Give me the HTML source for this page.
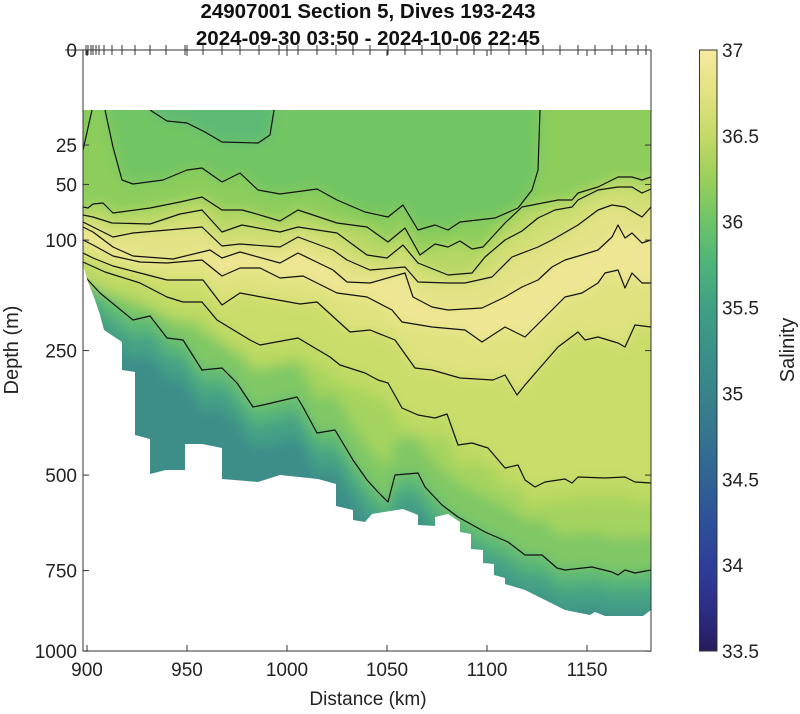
<!DOCTYPE html>
<html><head><meta charset="utf-8"><style>
html,body{margin:0;padding:0;background:#fff;}
svg{display:block;font-family:"Liberation Sans",sans-serif;}
</style></head><body>
<svg id="s" width="800" height="714" viewBox="0 0 800 714" xmlns="http://www.w3.org/2000/svg">
<defs>
<clipPath id="dc"><polygon id="shape" points=""/></clipPath>
<filter id="bl" x="-10%" y="-10%" width="120%" height="120%"><feGaussianBlur stdDeviation="6"/></filter>
<linearGradient id="cb" x1="0" y1="1" x2="0" y2="0">
<stop offset="0" stop-color="#261c5e"/><stop offset="0.071" stop-color="#2c2e86"/>
<stop offset="0.143" stop-color="#2e3e9a"/><stop offset="0.214" stop-color="#2d5098"/>
<stop offset="0.286" stop-color="#306393"/><stop offset="0.357" stop-color="#35748f"/>
<stop offset="0.429" stop-color="#38838b"/><stop offset="0.5" stop-color="#3a9189"/>
<stop offset="0.571" stop-color="#3fa085"/><stop offset="0.643" stop-color="#4cb47a"/>
<stop offset="0.714" stop-color="#6dc467"/><stop offset="0.786" stop-color="#9acf5b"/>
<stop offset="0.857" stop-color="#c4d967"/><stop offset="0.929" stop-color="#e3e282"/>
<stop offset="1" stop-color="#f6ea9e"/></linearGradient>
</defs>
<g clip-path="url(#dc)"><g id="fills" filter="url(#bl)"></g></g>
<g clip-path="url(#dc)" id="lines" fill="none" stroke="#111" stroke-width="1.2" stroke-linejoin="round"></g>
<g id="axes" stroke="#333" stroke-width="1" fill="none"></g>
<g id="txt" font-size="19" fill="#222"></g>
<text x="368" y="18" text-anchor="middle" font-size="20.5" font-weight="bold" fill="#111">24907001 Section 5, Dives 193-243</text>
<text x="368" y="45" text-anchor="middle" font-size="20.5" font-weight="bold" fill="#111">2024-09-30 03:50 - 2024-10-06 22:45</text>
<text x="368" y="705" text-anchor="middle" font-size="19" fill="#222">Distance (km)</text>
<text transform="translate(18,350) rotate(-90)" text-anchor="middle" font-size="20" fill="#222">Depth (m)</text>
<text transform="translate(794,350) rotate(-90)" text-anchor="middle" font-size="20" fill="#222">Salinity</text>
<rect x="699.5" y="50" width="17.5" height="601" fill="url(#cb)" stroke="#333" stroke-width="1"/>
</svg>
<script>
var NS="http://www.w3.org/2000/svg";
function P(a){return a.map(function(p){return p[0]+","+p[1]}).join(" ");}
var shape=[[83,110],[651,110],[651,610],[643,616],[605,616],[595,612],[590,615],[580,613],[570,611],[565,610],[525,590],[505,584],[505,578],[494,575],[494,564],[483,563],[483,550],[471,549],[471,534],[460,532],[460,522],[448,514],[435,517],[435,526],[418,525],[418,515],[403,509],[372,514],[365,522],[353,520],[353,510],[336,506],[336,484],[318,479],[280,475],[258,482],[222,479],[222,448],[202,444],[185,444],[185,470],[166,470],[150,474],[150,439],[135,435],[135,372],[122,370],[122,342],[104,330],[100,315],[95,300],[88,282],[83,265]];
document.getElementById("shape").setAttribute("points",P(shape));
var L={
L0:[[92,110],[83,150]],
LB:[[150,110],[167,121],[187,123],[205,132],[222,142],[258,143],[270,135],[274,110]],
L1:[[105,110],[113,147],[122,180],[133,184],[163,180],[187,170],[202,168],[222,182],[240,173],[258,190],[280,194],[317,189],[337,200],[365,212],[388,217],[403,205],[418,230],[435,225],[448,230],[460,222],[495,218],[518,208],[532,190],[538,170],[540,110]],
L2:[[83,207],[88,208],[93,204],[103,203],[113,213],[150,208],[180,202],[202,197],[222,210],[242,210],[253,213],[280,221],[298,210],[337,223],[367,227],[388,242],[405,228],[420,255],[435,244],[448,247],[460,241],[472,249],[483,247],[505,223],[522,207],[558,200],[572,200],[578,193],[598,187],[618,177],[632,177],[642,180],[651,177]],
L3:[[83,215],[93,217],[112,223],[150,224],[180,214],[202,210],[222,232],[242,225],[280,232],[298,227],[337,233],[367,255],[387,258],[403,245],[418,263],[448,275],[472,273],[485,257],[505,240],[522,231],[538,218],[555,210],[572,207],[578,200],[598,190],[618,187],[632,187],[642,193],[651,189]],
L4:[[83,222],[93,227],[113,237],[133,233],[202,227],[222,246],[240,244],[280,247],[298,237],[333,250],[347,260],[370,270],[405,267],[418,282],[448,283],[465,283],[492,277],[512,257],[538,247],[552,240],[578,225],[598,210],[612,205],[625,207],[642,217],[651,207]],
L5:[[83,227],[93,232],[113,247],[133,256],[173,259],[210,250],[222,258],[240,252],[280,263],[298,253],[333,270],[347,282],[370,283],[405,273],[413,297],[432,307],[448,310],[482,308],[505,297],[522,287],[538,280],[552,267],[565,260],[582,255],[598,250],[612,237],[618,225],[625,238],[632,233],[642,243],[651,240]],
L6:[[83,240],[93,245],[113,256],[140,262],[167,263],[202,260],[222,276],[240,268],[260,268],[280,278],[303,276],[337,293],[367,297],[392,310],[402,322],[432,327],[465,330],[482,342],[505,327],[525,337],[552,310],[565,297],[582,293],[598,283],[605,273],[618,270],[625,288],[632,273],[642,283],[651,283]],
L7:[[83,253],[93,258],[113,266],[140,273],[167,280],[203,280],[222,305],[240,293],[267,298],[300,304],[317,302],[350,332],[370,330],[395,340],[415,368],[432,370],[460,378],[493,380],[505,375],[517,395],[525,385],[538,370],[558,347],[578,332],[585,340],[598,337],[618,343],[625,347],[635,325],[651,327]],
L8:[[83,262],[105,272],[140,283],[167,297],[183,302],[202,302],[217,320],[250,340],[260,345],[298,338],[330,357],[340,365],[365,373],[378,380],[388,383],[402,408],[418,415],[435,418],[447,414],[458,445],[472,443],[488,448],[505,468],[518,465],[525,480],[535,487],[545,482],[565,479],[572,483],[578,477],[605,478],[625,477],[635,482],[651,483]],
L9:[[83,274],[88,280],[100,293],[133,320],[150,316],[167,338],[183,340],[202,370],[222,368],[237,383],[253,407],[263,405],[297,397],[303,407],[317,433],[335,430],[353,460],[367,480],[378,492],[388,502],[395,475],[418,473],[425,487],[442,505],[458,517],[485,532],[508,542],[525,555],[542,555],[557,568],[565,570],[592,567],[612,572],[618,575],[625,570],[635,573],[651,570]]
};
function sh(line,d){return line.map(function(p){return [p[0],p[1]+d];});}
var fills=document.getElementById("fills");
function poly(pts,col){var e=document.createElementNS(NS,"polygon");e.setAttribute("points",P(pts));e.setAttribute("fill",col);fills.appendChild(e);}
function above(line){var a=[[60,line[0][1]]].concat(line).concat([[680,line[line.length-1][1]],[680,90],[60,90]]);return a;}
poly([[60,90],[680,90],[680,680],[60,680]],"#3c8e89");
poly(above(sh(L.L9,40)),"#45a184");
poly(above(sh(L.L9,18)),"#5ab777");
poly(above(L.L9),"#80c865");
poly(above(sh(L.L9,-35)),"#a4d35e");
poly(above(sh(L.L8,20)),"#bcd964");
poly(above(L.L8),"#cadd6b");
poly(above(L.L7),"#dfe27e");
poly(above(L.L6),"#efe695");
poly(above(L.L5),"#e3e285");
poly(above(L.L4),"#cfde73");
poly(above(L.L3),"#b5d765");
poly(above(L.L2),"#8ccd5b");
poly([[105,100]].concat(L.L1).concat([[540,100]]),"#72c564");
poly(L.LB.concat([[274,100],[150,100]]),"#5dba74");
poly([[60,100],[92,100]].concat(L.L0).concat([[60,150]]),"#85cb5c");
var lg=document.getElementById("lines");
for(var k in L){var e=document.createElementNS(NS,"polyline");e.setAttribute("points",P(L[k]));lg.appendChild(e);}
var ax=document.getElementById("axes"),tx=document.getElementById("txt");
function ln(x1,y1,x2,y2,g){var e=document.createElementNS(NS,"line");e.setAttribute("x1",x1);e.setAttribute("y1",y1);e.setAttribute("x2",x2);e.setAttribute("y2",y2);(g||ax).appendChild(e);}
function t(x,y,s,anc){var e=document.createElementNS(NS,"text");e.setAttribute("x",x);e.setAttribute("y",y);e.setAttribute("text-anchor",anc);e.textContent=s;tx.appendChild(e);}
var r=document.createElementNS(NS,"rect");r.setAttribute("x",83);r.setAttribute("y",50);r.setAttribute("width",568);r.setAttribute("height",601);ax.appendChild(r);
[0,25,50,100,250,500,750,1000].forEach(function(d){var y=50+19.01*Math.sqrt(d);ln(83,y,89,y);ln(651,y,645,y);t(77,y+7,String(d),"end");});
[900,950,1000,1050,1100,1150].forEach(function(v){var x=87+(v-900)*2;ln(x,651,x,645);ln(x,50,x,56);t(x,676,String(v),"middle");});
var dx=[86,88,91,93,96,99,104,112,122,135,150,166,185,187,203,222,240,259,279,287,298,317,336,353,370,388,405,422,440,457,474,491,509,526,543,560,578,595,612,626,638,646];
dx.forEach(function(x){ln(x,45,x,55);});
ln(65,50,83,50);
[37,36.5,36,35.5,35,34.5,34,33.5].forEach(function(v){var y=651-(v-33.5)/3.5*601;ln(699.5,y,703,y);ln(717,y,713.5,y);t(722,y+7,String(v),"start");});
</script>
</body></html>
